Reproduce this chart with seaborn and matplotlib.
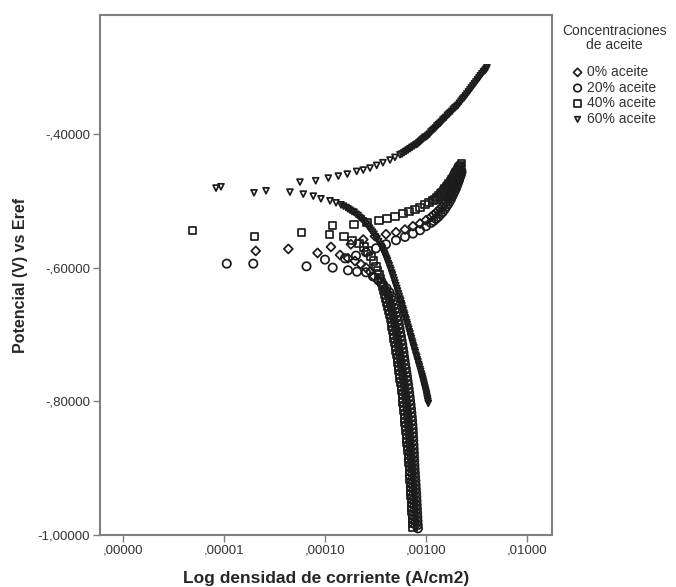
import numpy as np
import pandas as pd
import matplotlib
matplotlib.use("Agg")
import matplotlib.pyplot as plt
from matplotlib.ticker import NullLocator
import seaborn as sns

# curvas de polarizacion: (log10 densidad de corriente, potencial V vs Eref)
concentraciones = ["0% aceite", "20% aceite", "40% aceite", "60% aceite"]

pts_0 = [
    (-4.686, -0.575), (-4.363, -0.572), (-4.074, -0.578), (-3.941, -0.569), (-3.851, -0.581),
    # rama anodica
    (-3.743, -0.565), (-3.621, -0.558), (-3.505, -0.553), (-3.396, -0.550), (-3.297, -0.547),
    (-3.208, -0.543), (-3.129, -0.538), (-3.059, -0.534), (-3.000, -0.529), (-2.950, -0.524),
    (-2.925, -0.521), (-2.901, -0.518), (-2.881, -0.515), (-2.861, -0.512), (-2.841, -0.509),
    (-2.822, -0.505), (-2.805, -0.502), (-2.787, -0.498), (-2.772, -0.495), (-2.757, -0.491),
    (-2.745, -0.487), (-2.733, -0.483), (-2.720, -0.480), (-2.708, -0.476), (-2.698, -0.472),
    (-2.688, -0.468), (-2.678, -0.465), (-2.668, -0.461), (-2.660, -0.457), (-2.653, -0.453),
    # rama catodica
    (-3.772, -0.586), (-3.703, -0.590), (-3.644, -0.595), (-3.594, -0.600), (-3.554, -0.606),
    (-3.515, -0.613), (-3.475, -0.619), (-3.440, -0.625), (-3.410, -0.631), (-3.385, -0.637),
    (-3.366, -0.643), (-3.355, -0.650), (-3.345, -0.656), (-3.336, -0.662), (-3.327, -0.668),
    (-3.319, -0.674), (-3.310, -0.680), (-3.303, -0.686), (-3.296, -0.692), (-3.288, -0.698),
    (-3.282, -0.704), (-3.276, -0.710), (-3.269, -0.716), (-3.263, -0.722), (-3.257, -0.728),
    (-3.252, -0.734), (-3.246, -0.740), (-3.240, -0.746), (-3.234, -0.752), (-3.228, -0.758),
    (-3.222, -0.764), (-3.217, -0.770), (-3.212, -0.776), (-3.206, -0.782), (-3.202, -0.788),
    (-3.197, -0.794), (-3.192, -0.800), (-3.188, -0.806), (-3.184, -0.812), (-3.179, -0.818),
    (-3.176, -0.824), (-3.173, -0.830), (-3.169, -0.836), (-3.166, -0.842), (-3.163, -0.848),
    (-3.160, -0.854), (-3.157, -0.860), (-3.154, -0.866), (-3.151, -0.872), (-3.148, -0.878),
    (-3.145, -0.884), (-3.142, -0.890), (-3.140, -0.896), (-3.137, -0.902), (-3.135, -0.908),
    (-3.132, -0.914), (-3.130, -0.920), (-3.128, -0.926), (-3.125, -0.932), (-3.123, -0.938),
    (-3.120, -0.944), (-3.118, -0.950), (-3.116, -0.956), (-3.114, -0.962), (-3.112, -0.968),
    (-3.110, -0.974), (-3.108, -0.980), (-3.106, -0.986),
]

pts_20 = [
    (-4.973, -0.594), (-4.710, -0.594), (-4.183, -0.598), (-4.000, -0.588), (-3.924, -0.600),
    (-3.802, -0.586),
    # rama anodica
    (-3.693, -0.582), (-3.594, -0.577), (-3.495, -0.571), (-3.396, -0.565), (-3.297, -0.559),
    (-3.208, -0.554), (-3.129, -0.549), (-3.059, -0.544), (-3.000, -0.538), (-2.950, -0.533),
    (-2.925, -0.530), (-2.901, -0.527), (-2.878, -0.524), (-2.856, -0.520), (-2.836, -0.517),
    (-2.817, -0.513), (-2.800, -0.509), (-2.782, -0.505), (-2.767, -0.501), (-2.752, -0.497),
    (-2.740, -0.493), (-2.728, -0.489), (-2.715, -0.485), (-2.703, -0.481), (-2.693, -0.477),
    (-2.683, -0.473), (-2.673, -0.469), (-2.663, -0.464), (-2.655, -0.461), (-2.648, -0.457),
    # rama catodica
    (-3.772, -0.604), (-3.683, -0.606), (-3.594, -0.607), (-3.525, -0.613), (-3.470, -0.619),
    (-3.425, -0.625), (-3.390, -0.631), (-3.362, -0.637), (-3.342, -0.643), (-3.325, -0.649),
    (-3.312, -0.655), (-3.303, -0.661), (-3.294, -0.667), (-3.285, -0.673), (-3.277, -0.679),
    (-3.269, -0.685), (-3.262, -0.691), (-3.255, -0.697), (-3.248, -0.703), (-3.242, -0.709),
    (-3.235, -0.715), (-3.229, -0.721), (-3.223, -0.727), (-3.218, -0.733), (-3.212, -0.739),
    (-3.206, -0.745), (-3.200, -0.751), (-3.194, -0.757), (-3.188, -0.763), (-3.183, -0.769),
    (-3.177, -0.775), (-3.172, -0.781), (-3.167, -0.787), (-3.162, -0.793), (-3.158, -0.799),
    (-3.153, -0.805), (-3.149, -0.811), (-3.145, -0.817), (-3.141, -0.823), (-3.138, -0.829),
    (-3.135, -0.835), (-3.132, -0.841), (-3.130, -0.847), (-3.128, -0.853), (-3.126, -0.859),
    (-3.124, -0.865), (-3.122, -0.871), (-3.120, -0.877), (-3.119, -0.883), (-3.117, -0.889),
    (-3.115, -0.895), (-3.113, -0.901), (-3.110, -0.907), (-3.108, -0.913), (-3.105, -0.919),
    (-3.103, -0.925), (-3.101, -0.931), (-3.098, -0.937), (-3.096, -0.943), (-3.094, -0.949),
    (-3.092, -0.955), (-3.090, -0.961), (-3.088, -0.967), (-3.086, -0.973), (-3.084, -0.979),
    (-3.082, -0.985), (-3.080, -0.990),
]

pts_40 = [
    (-5.314, -0.544), (-4.700, -0.553), (-4.231, -0.547), (-3.924, -0.537), (-3.957, -0.550),
    # rama anodica
    (-3.713, -0.535), (-3.584, -0.532), (-3.465, -0.529), (-3.386, -0.526), (-3.307, -0.523),
    (-3.228, -0.519), (-3.168, -0.516), (-3.109, -0.513), (-3.059, -0.510), (-3.010, -0.506),
    (-2.970, -0.503), (-2.931, -0.500), (-2.911, -0.498), (-2.891, -0.495), (-2.873, -0.493),
    (-2.856, -0.490), (-2.841, -0.488), (-2.827, -0.485), (-2.812, -0.482), (-2.797, -0.479),
    (-2.784, -0.477), (-2.772, -0.474), (-2.760, -0.472), (-2.747, -0.469), (-2.738, -0.467),
    (-2.728, -0.464), (-2.718, -0.461), (-2.708, -0.458), (-2.698, -0.456), (-2.688, -0.453),
    (-2.678, -0.451), (-2.668, -0.449), (-2.658, -0.447), (-2.648, -0.444),
    # rama catodica
    (-3.812, -0.553), (-3.733, -0.559), (-3.663, -0.564), (-3.614, -0.569), (-3.574, -0.575),
    (-3.545, -0.583), (-3.520, -0.590), (-3.495, -0.598), (-3.480, -0.604), (-3.466, -0.610),
    (-3.452, -0.616), (-3.439, -0.622), (-3.428, -0.628), (-3.416, -0.634), (-3.405, -0.640),
    (-3.396, -0.646), (-3.386, -0.652), (-3.377, -0.658), (-3.368, -0.664), (-3.360, -0.670),
    (-3.351, -0.676), (-3.343, -0.682), (-3.335, -0.688), (-3.328, -0.694), (-3.321, -0.700),
    (-3.315, -0.706), (-3.308, -0.712), (-3.302, -0.718), (-3.296, -0.724), (-3.291, -0.730),
    (-3.285, -0.736), (-3.279, -0.742), (-3.273, -0.748), (-3.267, -0.754), (-3.261, -0.760),
    (-3.256, -0.766), (-3.250, -0.772), (-3.245, -0.778), (-3.240, -0.784), (-3.235, -0.790),
    (-3.230, -0.796), (-3.226, -0.802), (-3.221, -0.808), (-3.217, -0.814), (-3.213, -0.820),
    (-3.210, -0.826), (-3.206, -0.832), (-3.203, -0.838), (-3.199, -0.844), (-3.195, -0.850),
    (-3.191, -0.856), (-3.187, -0.862), (-3.183, -0.868), (-3.179, -0.874), (-3.175, -0.880),
    (-3.171, -0.886), (-3.168, -0.892), (-3.165, -0.898), (-3.161, -0.904), (-3.159, -0.910),
    (-3.157, -0.916), (-3.154, -0.922), (-3.152, -0.928), (-3.149, -0.934), (-3.147, -0.940),
    (-3.145, -0.946), (-3.142, -0.952), (-3.140, -0.958), (-3.138, -0.964), (-3.136, -0.970),
    (-3.134, -0.976), (-3.132, -0.982), (-3.130, -0.988),
]

pts_60 = [
    (-5.079, -0.481), (-5.030, -0.479), (-4.703, -0.488), (-4.584, -0.485), (-4.347, -0.487),
    # rama anodica
    (-4.248, -0.472), (-4.092, -0.470), (-3.967, -0.466), (-3.868, -0.463), (-3.779, -0.460),
    (-3.686, -0.456), (-3.621, -0.454), (-3.554, -0.451), (-3.488, -0.447), (-3.426, -0.443),
    (-3.356, -0.439), (-3.307, -0.435), (-3.257, -0.431), (-3.238, -0.430), (-3.218, -0.428),
    (-3.198, -0.426), (-3.178, -0.424), (-3.158, -0.422), (-3.139, -0.420), (-3.119, -0.418),
    (-3.099, -0.416), (-3.084, -0.415), (-3.069, -0.413), (-3.055, -0.411), (-3.040, -0.409),
    (-3.025, -0.407), (-3.010, -0.405), (-2.995, -0.404), (-2.980, -0.402), (-2.965, -0.400),
    (-2.950, -0.397), (-2.936, -0.395), (-2.921, -0.393), (-2.906, -0.391), (-2.891, -0.388),
    (-2.876, -0.386), (-2.861, -0.384), (-2.847, -0.382), (-2.832, -0.379), (-2.817, -0.377),
    (-2.802, -0.375), (-2.787, -0.372), (-2.772, -0.370), (-2.758, -0.368), (-2.743, -0.366),
    (-2.728, -0.363), (-2.713, -0.361), (-2.698, -0.359), (-2.683, -0.357), (-2.668, -0.354),
    (-2.653, -0.351), (-2.639, -0.348), (-2.624, -0.346), (-2.609, -0.343), (-2.594, -0.340),
    (-2.579, -0.337), (-2.564, -0.334), (-2.550, -0.331), (-2.535, -0.328), (-2.520, -0.325),
    (-2.505, -0.322), (-2.490, -0.319), (-2.475, -0.316), (-2.461, -0.313), (-2.446, -0.310),
    (-2.431, -0.307), (-2.416, -0.305), (-2.406, -0.303), (-2.396, -0.301),
    # rama catodica
    (-4.215, -0.490), (-4.116, -0.493), (-4.040, -0.497), (-3.950, -0.500), (-3.891, -0.503),
    (-3.842, -0.506), (-3.817, -0.508), (-3.792, -0.510), (-3.772, -0.512), (-3.752, -0.514),
    (-3.732, -0.516), (-3.713, -0.517), (-3.693, -0.520), (-3.673, -0.522), (-3.656, -0.525),
    (-3.639, -0.527), (-3.621, -0.530), (-3.604, -0.532), (-3.589, -0.535), (-3.574, -0.538),
    (-3.560, -0.541), (-3.545, -0.544), (-3.530, -0.547), (-3.515, -0.550), (-3.500, -0.554),
    (-3.485, -0.557), (-3.470, -0.561), (-3.455, -0.565), (-3.445, -0.568), (-3.438, -0.570),
    (-3.431, -0.572), (-3.423, -0.575), (-3.414, -0.578), (-3.406, -0.581), (-3.398, -0.584),
    (-3.389, -0.587), (-3.381, -0.590), (-3.373, -0.594), (-3.364, -0.597), (-3.356, -0.601),
    (-3.348, -0.604), (-3.340, -0.608), (-3.332, -0.611), (-3.324, -0.615), (-3.315, -0.619),
    (-3.307, -0.623), (-3.299, -0.627), (-3.290, -0.631), (-3.282, -0.635), (-3.274, -0.639),
    (-3.265, -0.643), (-3.257, -0.647), (-3.251, -0.650), (-3.244, -0.654), (-3.238, -0.657),
    (-3.231, -0.661), (-3.225, -0.664), (-3.218, -0.668), (-3.211, -0.671), (-3.205, -0.675),
    (-3.198, -0.678), (-3.191, -0.682), (-3.185, -0.685), (-3.178, -0.689), (-3.171, -0.692),
    (-3.165, -0.696), (-3.158, -0.699), (-3.152, -0.703), (-3.145, -0.706), (-3.139, -0.710),
    (-3.132, -0.713), (-3.126, -0.717), (-3.119, -0.720), (-3.112, -0.724), (-3.106, -0.727),
    (-3.099, -0.731), (-3.092, -0.734), (-3.086, -0.738), (-3.079, -0.741), (-3.072, -0.745),
    (-3.066, -0.748), (-3.059, -0.752), (-3.053, -0.755), (-3.046, -0.759), (-3.040, -0.762),
    (-3.035, -0.765), (-3.030, -0.768), (-3.025, -0.771), (-3.020, -0.774), (-3.015, -0.777),
    (-3.010, -0.780), (-3.005, -0.783), (-3.000, -0.786), (-2.995, -0.789), (-2.992, -0.792),
    (-2.988, -0.795), (-2.985, -0.797), (-2.981, -0.800), (-2.977, -0.803),
]

xtick_vals = [1e-6, 1e-5, 1e-4, 1e-3, 1e-2]
xtick_text = [",00000", ",00001", ",00010", ",00100", ",01000"]
ytick_vals = [-1.0, -0.8, -0.6, -0.4]
ytick_text = ["-1,00000", "-,80000", "-,60000", "-,40000"]

frames = []
for lab, pts in zip(concentraciones, [pts_0, pts_20, pts_40, pts_60]):
    arr = np.array(pts)
    frames.append(pd.DataFrame({"corriente": 10 ** arr[:, 0],
                                "potencial": arr[:, 1],
                                "conc": lab}))
df = pd.concat(frames, ignore_index=True)

sns.set_style("white")
plt.rcParams["font.family"] = ["Liberation Sans", "DejaVu Sans"]

fig = plt.figure(figsize=(6.76, 5.87), dpi=100)
ax = fig.add_axes([100 / 676, 52 / 587, 452 / 676, 520 / 587])

marcadores = {"0% aceite": "D", "20% aceite": "o", "40% aceite": "s", "60% aceite": "v"}
tamanos = {"0% aceite": 21, "20% aceite": 36, "40% aceite": 28, "60% aceite": 18}

for lab in concentraciones:
    sns.scatterplot(data=df[df["conc"] == lab], x="corriente", y="potencial",
                    marker=marcadores[lab], s=tamanos[lab], facecolor="none",
                    edgecolor="#1c1c1c", linewidth=1.25, label=lab, ax=ax, legend=False)

ax.set_xscale("log")
ax.set_xlim(10 ** -6.228, 10 ** -1.752)
ax.set_ylim(-1.0, -0.222)
ax.set_xticks(xtick_vals)
ax.set_xticklabels(xtick_text)
ax.xaxis.set_minor_locator(NullLocator())
ax.set_yticks(ytick_vals)
ax.set_yticklabels(ytick_text)

ax.tick_params(direction="out", length=5, width=1, color="#808080", labelsize=9.5,
               labelcolor="#333333", bottom=True, left=True, pad=2)
for sp in ax.spines.values():
    sp.set_visible(True)
    sp.set_color("#808080")
    sp.set_linewidth(1.5)

ax.set_xlabel("Log densidad de corriente (A/cm2)", fontsize=12.5, fontweight="bold", labelpad=10)
ax.set_ylabel("Potencial (V) vs Eref", fontsize=11.5, fontweight="bold", labelpad=7)

leg = ax.legend(loc="upper left", bbox_to_anchor=(572 / 676, (587 - 65) / 587),
                bbox_transform=fig.transFigure, frameon=False, fontsize=10,
                handlelength=0.8, handletextpad=0.3, labelspacing=0.12,
                borderpad=0, borderaxespad=0, markerscale=0.9)
for t in leg.get_texts():
    t.set_color("#333333")

fig.text(614.5 / 676, (587 - 38) / 587, "Concentraciones\nde aceite", ha="center", va="center",
         fontsize=10, color="#333333", linespacing=1.0)

fig.savefig("out.png", dpi=100)
